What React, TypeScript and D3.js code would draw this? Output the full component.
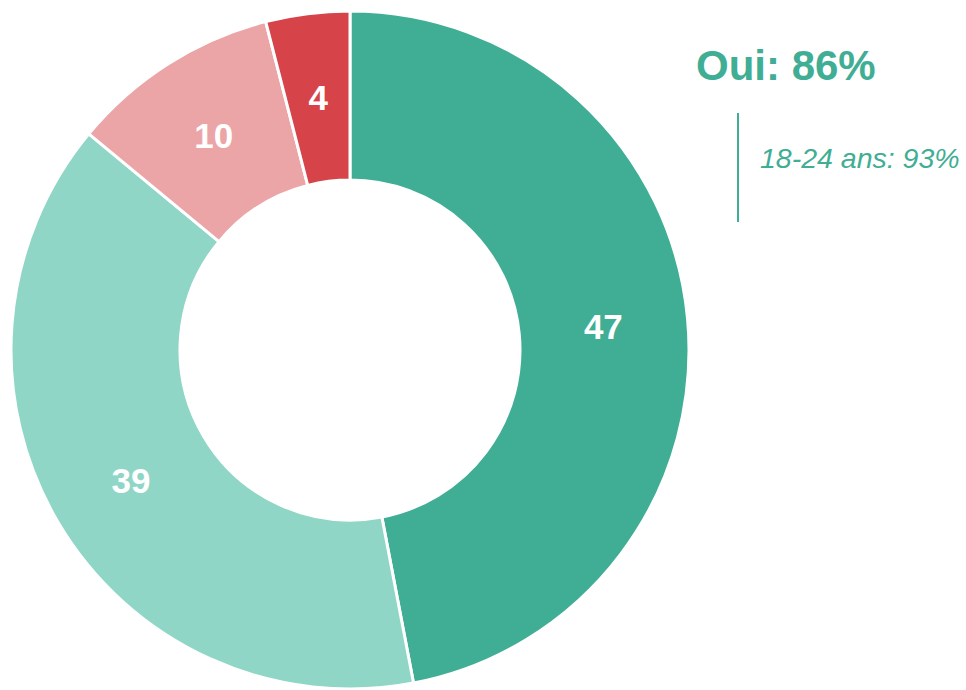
import React from "react";
import * as d3 from "d3";

const categories = ["Oui, tout à fait", "Oui, plutôt", "Non, plutôt pas", "Non, pas du tout"];
const values = [47, 39, 10, 4];
const colors = ["#3fae94", "#8fd6c6", "#eba5a7", "#d6444a"];
const headline = "Oui: 86%";
const subline = "18-24 ans: 93%";

export default function App() {
  const W = 966, H = 690;
  const cx = 350, cy = 350, rOuter = 339, rInner = 170;
  const pie = d3.pie<number>().sort(null).value((d) => d)(values);
  const arc = d3.arc<d3.PieArcDatum<number>>().innerRadius(rInner).outerRadius(rOuter);
  const font = "'Liberation Sans', Arial, Helvetica, sans-serif";
  return (
    <svg width={W} height={H} style={{ position: "absolute", left: 0, top: 0, background: "#fff" }}>
      <g transform={`translate(${cx},${cy})`}>
        {pie.map((p, i) => (
          <path key={categories[i]} d={arc(p) || ""} fill={colors[i]} stroke="#fff" strokeWidth={3} strokeLinejoin="round" />
        ))}
        {pie.map((p, i) => {
          const [x, y] = arc.centroid(p);
          return (
            <text key={"l" + i} x={x} y={y} dy="0.37em" textAnchor="middle" fill="#fff"
              fontFamily={font} fontWeight="bold" fontSize={35}>
              {values[i]}
            </text>
          );
        })}
      </g>
      <text x={696} y={80} fill="#3fae94" fontFamily={font} fontWeight="bold" fontSize={42}>{headline}</text>
      <line x1={738} x2={738} y1={113} y2={222} stroke="#3fae94" strokeWidth={2} />
      <text x={760} y={168} fill="#3fae94" fontFamily={font} fontStyle="italic" fontSize={28.5}>{subline}</text>
    </svg>
  );
}
